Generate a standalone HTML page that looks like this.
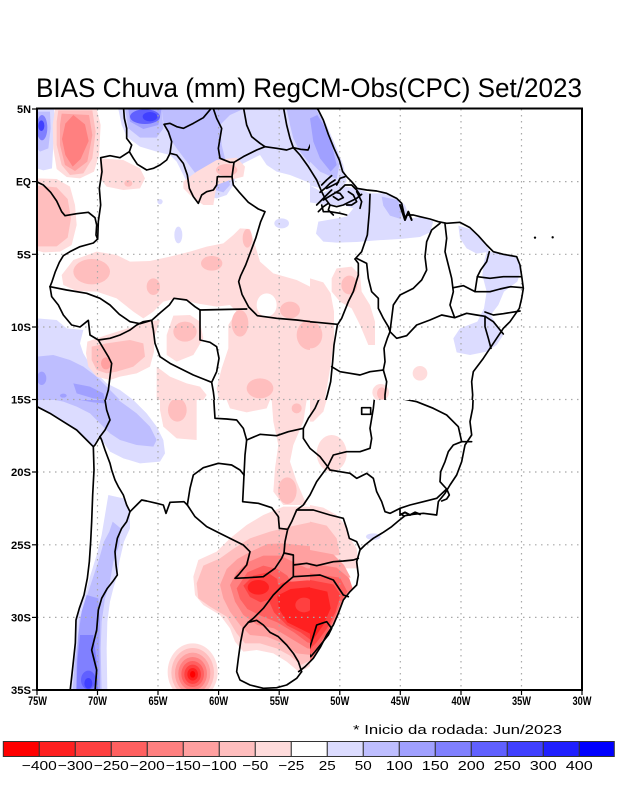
<!DOCTYPE html>
<html><head><meta charset="utf-8"><style>
html,body{margin:0;padding:0;background:#fff}
svg{display:block}
.b{fill:none;stroke:#000;stroke-width:5;stroke-linejoin:round;stroke-linecap:round}
.p1{fill:#ffdcdc}.p2{fill:#ffbebe}.p3{fill:#ffa0a0}.p4{fill:#ff8080}.p5{fill:#ff6060}.p6{fill:#ff4040}.p7{fill:#ff2020}.p8{fill:#ff0000}
.q1{fill:#dcdcff}.q2{fill:#bebeff}.q3{fill:#a0a0ff}.q4{fill:#8080ff}.q5{fill:#6060ff}.q6{fill:#4040ff}.q7{fill:#2020ff}.q8{fill:#0000ff}
.w{fill:#fff}
.grid{stroke:#a8a8a8;stroke-width:1.2;stroke-dasharray:1.5 4.5;fill:none}
.lab{font-family:"Liberation Sans",sans-serif;font-weight:bold;font-size:11px;fill:#000}
.cb{font-family:"Liberation Sans",sans-serif;font-size:13px;fill:#000}
</style></head><body>
<svg width="618" height="800" viewBox="0 0 618 800" xmlns="http://www.w3.org/2000/svg">
<defs>
<clipPath id="cA"><rect x="21" y="12" width="819" height="873"/></clipPath>
<clipPath id="cB"><rect x="60" y="12" width="816" height="873"/></clipPath>
<clipPath id="cC"><rect x="21" y="15" width="819" height="870"/></clipPath>
<clipPath id="cD"><rect x="60" y="15" width="816" height="870"/></clipPath>
</defs>
<rect width="618" height="800" fill="#fff"/>

<text x="36" y="97" font-family="Liberation Sans, sans-serif" font-size="27" textLength="546" lengthAdjust="spacingAndGlyphs">BIAS Chuva (mm) RegCM-Obs(CPC) Set/2023</text>

<!-- ===== FILLS ===== -->
<g transform="translate(30,105) scale(0.333333)" clip-path="url(#cA)">
<polygon class="q1" points="21,12 72,12 76,60 70,120 66,190 40,196 21,190"/>
<polygon class="q2" points="21,20 60,20 62,70 55,130 30,140 21,130"/>
<ellipse class="q4" cx="36" cy="68" rx="16" ry="38"/>
<ellipse class="q6" cx="34" cy="62" rx="9" ry="16"/>
<polygon class="p1" points="75,12 200,12 212,60 207,150 192,200 150,220 110,216 80,192 70,130 68,60"/>
<polygon class="p2" points="85,16 187,16 197,80 187,160 160,205 120,210 95,180 80,120 80,50"/>
<polygon class="p3" points="95,26 177,30 187,90 172,170 135,198 105,180 90,120 90,60"/>
<polygon class="p4" points="130,30 165,58 176,108 152,162 128,185 106,150 96,102 106,56"/>
<polygon class="p1" points="21,220 80,222 120,245 135,300 140,360 125,420 90,440 40,442 21,436"/>
<polygon class="p2" points="21,242 80,247 113,282 123,340 113,398 80,424 21,424"/>
<polygon class="q1" points="265,12 275,60 290,95 330,125 380,140 420,150 440,170 460,210 480,250 520,270 560,280 590,270 610,240 625,190 640,175 690,150 710,180 740,200 780,210 830,230 870,250 900,270 900,12"/>
<polygon class="q2" points="395,12 400,50 420,100 440,130 470,170 500,210 540,250 580,262 600,240 590,180 575,120 570,60 600,30 640,12"/>
<polygon class="q2" points="285,12 395,12 400,70 380,98 330,98 295,70"/>
<polygon class="q3" points="295,12 395,12 385,60 340,72 300,50"/>
<ellipse class="q5" cx="345" cy="35" rx="45" ry="22"/>
<ellipse class="q6" cx="360" cy="35" rx="22" ry="14"/>
<polygon class="q2" points="770,12 780,60 790,100 810,140 850,190 880,230 900,240 900,12"/>
<polygon class="p1" points="210,160 280,165 330,190 345,220 330,250 280,255 230,245 210,220"/>
<ellipse class="p2" cx="295" cy="235" rx="12" ry="10"/>
<polygon class="p1" points="460,230 500,200 560,165 620,158 645,185 640,215 600,225 560,240 550,300 520,300 480,270 460,250"/>
<ellipse class="p2" cx="590" cy="195" rx="32" ry="18"/>
<ellipse class="q1" cx="390" cy="290" rx="8" ry="8"/>
<ellipse class="q1" cx="445" cy="390" rx="12" ry="25"/>
<ellipse class="q1" cx="755" cy="355" rx="22" ry="15"/>
<ellipse class="q1" cx="880" cy="372" rx="30" ry="25"/>
<polygon class="p1" points="95,510 130,465 200,440 260,450 300,470 360,468 420,455 480,440 530,425 580,415 610,390 630,370 660,372 675,420 690,470 730,505 800,525 850,550 900,570 900,900 570,900 560,850 575,790 595,730 595,660 620,620 600,600 560,605 500,595 440,580 400,590 370,620 340,640 310,620 260,580 200,560 140,558 100,540"/>
<ellipse class="w" cx="710" cy="600" rx="30" ry="35"/>
<ellipse class="p2" cx="185" cy="500" rx="55" ry="38"/>
<ellipse class="p2" cx="370" cy="545" rx="20" ry="25"/>
<ellipse class="p2" cx="545" cy="475" rx="32" ry="22"/>
<ellipse class="p2" cx="652" cy="400" rx="14" ry="28"/>
<ellipse class="p2" cx="630" cy="655" rx="25" ry="40"/>
<ellipse class="p2" cx="780" cy="615" rx="30" ry="25"/>
<ellipse class="p2" cx="840" cy="690" rx="40" ry="45"/>
<ellipse class="p2" cx="690" cy="850" rx="40" ry="30"/>
<polygon class="q1" points="21,640 80,645 110,670 160,675 150,715 160,745 190,795 230,835 270,855 310,885 350,925 21,925"/>
<polygon class="q2" points="21,755 70,750 120,765 160,785 200,815 240,855 270,885 300,915 21,915"/>
<polygon class="q3" points="130,835 180,845 220,865 225,885 190,880 140,865"/>
<ellipse class="q3" cx="35" cy="820" rx="14" ry="20"/>
<ellipse class="q3" cx="100" cy="872" rx="10" ry="6"/>
<polygon class="p1" points="168,745 172,710 230,690 300,668 350,650 390,645 372,700 372,740 360,785 320,805 270,815 240,825 200,815 175,785"/>
<polygon class="p2" points="185,725 230,715 300,705 340,715 345,755 310,785 260,800 230,805 200,795 185,765"/>
<ellipse class="p3" cx="228" cy="775" rx="15" ry="18"/>
<polygon class="p1" points="430,632 480,630 510,650 520,700 490,750 440,770 410,750 410,690"/>
<ellipse class="p2" cx="465" cy="680" rx="35" ry="30"/>
<polygon class="p1" points="380,785 420,815 470,835 510,845 530,870 520,885 380,885"/>
</g>

<g transform="translate(290,105) scale(0.333333)" clip-path="url(#cB)">
<polygon class="q1" points="60,12 85,12 110,60 140,130 160,180 170,230 140,262 100,252 60,242"/>
<polygon class="q2" points="60,12 78,12 100,50 128,120 148,180 140,222 90,200 60,170"/>
<polygon class="q3" points="60,40 82,30 102,62 126,122 140,180 122,200 90,160 70,110"/>
<polygon class="q1" points="60,242 100,262 150,242 200,250 240,265 280,265 320,280 345,300 360,340 400,335 430,350 420,382 390,396 330,402 260,406 200,411 140,413 100,410 78,386 85,350 130,342 170,335 190,310 160,300 110,300 60,292"/>
<polygon class="q2" points="275,275 322,285 336,312 332,342 300,332 280,302"/>
<polygon class="q1" points="505,362 540,372 580,410 600,440 560,446 530,430 510,400"/>
<polygon class="q1" points="590,440 640,446 682,456 692,500 682,530 642,560 625,600 602,630 627,670 640,690 620,720 590,740 540,750 500,742 490,700 510,670 562,650 582,610 590,560 577,510 582,470"/>
<polygon class="p1" points="140,490 185,485 210,510 215,560 240,600 255,650 255,720 235,720 210,660 185,610 150,590 125,560 125,520"/>
<ellipse class="p2" cx="178" cy="540" rx="24" ry="28"/>
<polygon class="p1" points="60,520 100,532 122,565 132,620 132,700 122,780 112,840 102,900 60,900"/>
<ellipse class="p2" cx="62" cy="690" rx="35" ry="40"/>
<circle class="p1" cx="390" cy="805" r="22"/>
<ellipse class="p1" cx="272" cy="862" rx="25" ry="25"/>
<ellipse class="p2" cx="275" cy="865" rx="14" ry="18"/>
</g>

<g transform="translate(30,395) scale(0.333333)" clip-path="url(#cC)">
<polygon class="q1" points="21,15 310,15 350,55 380,95 400,135 405,175 390,200 330,205 280,190 240,170 215,135 205,125 190,155 170,135 140,105 100,80 60,55 21,35"/>
<polygon class="q2" points="21,15 265,15 320,55 360,95 380,135 370,155 320,150 270,135 240,115 210,85 180,55 140,35 100,20 60,12"/>
<polygon class="q3" points="150,15 225,15 222,25 190,22"/>
<polygon class="q1" points="235,300 280,310 300,350 300,400 282,440 268,500 262,540 250,580 240,620 232,680 230,760 232,890 118,890 124,846 130,800 136,744 138,675 150,640 165,600 180,545 200,480 215,420 225,360"/>
<polygon class="q2" points="248,380 272,400 268,450 250,500 240,560 225,610 215,680 212,760 215,890 128,890 134,800 142,744 148,675 165,620 185,560 205,500 222,440 238,410"/>
<polygon class="q3" points="170,600 205,610 210,680 208,760 210,890 138,890 140,800 145,720 155,650"/>
<polygon class="q4" points="150,720 190,720 200,800 205,890 140,890 142,800"/>
<ellipse class="q5" cx="175" cy="855" rx="22" ry="28"/>
<ellipse class="q6" cx="175" cy="865" rx="12" ry="16"/>
<polygon class="p1" points="390,15 500,15 500,135 440,130 400,95 390,45"/>
<ellipse class="p2" cx="442" cy="45" rx="28" ry="35"/>
<polygon class="p1" points="590,15 720,15 710,40 650,52 600,40"/>
<polygon class="p1" points="725,15 830,15 820,80 790,150 780,200 800,260 830,330 760,330 730,290 735,220 745,150 730,80"/>
<ellipse class="p2" cx="772" cy="287" rx="28" ry="40"/>
<ellipse class="p2" cx="800" cy="40" rx="15" ry="15"/>
<polygon class="p1" points="490,545 505,495 560,470 600,430 650,390 700,360 760,335 830,335 900,340 900,790 860,800 830,820 806,830 770,800 730,775 680,765 640,770 615,740 600,700 570,660 520,630 495,600"/>
<polygon class="p2" points="500,565 520,512 570,490 612,460 660,430 720,410 780,395 850,380 900,375 900,785 850,792 812,810 780,782 740,760 690,745 645,745 620,715 590,665 540,635 505,610"/>
<polygon class="p3" points="570,570 590,522 622,492 662,470 712,447 762,445 822,452 900,460 900,780 842,780 800,775 760,745 710,725 660,720 630,690 600,650 580,610"/>
<polygon class="p4" points="600,570 620,532 652,502 700,482 752,482 792,502 832,520 900,520 900,770 832,760 782,730 732,700 682,690 640,660 615,620"/>
<polygon class="p5" points="620,580 652,532 700,512 742,522 772,542 782,560 900,560 900,760 832,742 792,712 742,682 692,662 652,642 630,612"/>
<polygon class="p6" points="640,572 670,542 712,532 742,552 746,586 722,612 692,622 660,606"/>
<polygon class="p6" points="720,580 760,562 832,556 900,560 900,752 852,742 812,712 772,692 732,652 716,616"/>
<ellipse class="p7" cx="685" cy="577" rx="32" ry="22"/>
<polygon class="p7" points="742,602 782,582 842,576 900,580 900,740 852,722 812,702 772,682 747,642"/>
<ellipse class="p6" cx="822" cy="630" rx="26" ry="22"/>
<ellipse class="p1" cx="488" cy="831" rx="75" ry="86"/>
<ellipse class="p2" cx="488" cy="833" rx="64" ry="74"/>
<ellipse class="p3" cx="488" cy="835" rx="53" ry="62"/>
<ellipse class="p4" cx="488" cy="836" rx="43" ry="50"/>
<ellipse class="p5" cx="488" cy="837" rx="34" ry="39"/>
<ellipse class="p6" cx="488" cy="838" rx="25" ry="29"/>
<ellipse class="p7" cx="488" cy="838" rx="16" ry="19"/>
<ellipse class="p8" cx="488" cy="838" rx="8" ry="10"/>
</g>

<g transform="translate(290,395) scale(0.333333)" clip-path="url(#cD)">
<polygon class="p1" points="60,15 110,15 100,50 70,80 60,80"/>
<ellipse class="p1" cx="125" cy="175" rx="45" ry="55"/>
<polygon class="p1" points="60,330 100,338 140,360 165,390 180,430 200,460 205,520 60,520"/>
<polygon class="p2" points="60,380 110,392 140,430 150,480 60,490"/>
<polygon class="p3" points="60,465 130,478 162,510 182,548 60,548"/>
<polygon class="p4" points="60,505 140,518 178,550 188,580 162,612 142,660 122,700 100,742 75,782 60,800"/>
<polygon class="p5" points="60,535 150,548 172,590 152,622 136,662 112,712 86,752 60,782"/>
<polygon class="p6" points="60,555 130,568 152,600 136,652 110,702 80,742 60,762"/>
<polygon class="p7" points="60,578 112,590 122,640 100,690 72,730 60,740"/>
<ellipse class="q1" cx="250" cy="425" rx="22" ry="10"/>
</g>

<!-- ===== GRID ===== -->
<g class="grid">
<line x1="97.5" y1="109" x2="97.5" y2="690"/>
<line x1="158" y1="109" x2="158" y2="690"/>
<line x1="218.6" y1="109" x2="218.6" y2="690"/>
<line x1="279.2" y1="109" x2="279.2" y2="690"/>
<line x1="339.8" y1="109" x2="339.8" y2="690"/>
<line x1="400.3" y1="109" x2="400.3" y2="690"/>
<line x1="461" y1="109" x2="461" y2="690"/>
<line x1="521.5" y1="109" x2="521.5" y2="690"/>
<line x1="37" y1="181.6" x2="582" y2="181.6"/>
<line x1="37" y1="254.3" x2="582" y2="254.3"/>
<line x1="37" y1="327" x2="582" y2="327"/>
<line x1="37" y1="399.5" x2="582" y2="399.5"/>
<line x1="37" y1="472" x2="582" y2="472"/>
<line x1="37" y1="544.8" x2="582" y2="544.8"/>
<line x1="37" y1="617.4" x2="582" y2="617.4"/>
</g>

<!-- ===== BORDERS ===== -->
<g transform="translate(30,105) scale(0.333333)" clip-path="url(#cA)">
<polyline class="b" points="280,0 283,40 290,70 290,100 305,120 298,140 310,160 322,178 350,195 370,190 390,180 410,165 420,145"/>
<polyline class="b" points="420,145 425,110 415,80 402,58 420,55 440,65 460,70 490,55 520,38 548,5"/>
<polyline class="b" points="548,5 560,40 575,70 570,100 565,130 570,160 600,172 612,172 640,155 680,135 705,125 740,130 770,135 790,128 812,133 834,135 850,100 870,48 880,20"/>
<polyline class="b" points="420,145 440,150 460,175 472,210 478,250 490,275 505,295 515,270 530,260 550,255 560,240 562,215 606,215 612,172"/>
<polyline class="b" points="606,215 610,240 628,262 655,292 685,312 705,320 692,350 677,400 662,440 647,480 632,512 626,530 636,568 656,606 682,632 740,640 800,645 860,652 910,658"/>
<polyline class="b" points="640,5 650,60 665,95 690,115 705,125"/>
<polyline class="b" points="760,5 770,60 780,100 790,128"/>
<polyline class="b" points="790,128 810,150 835,185 860,225 875,260 885,280"/>
<polyline class="b" points="298,140 270,158 240,152 212,158 216,200 208,250 212,300 205,350 203,402"/>
<polyline class="b" points="15,228 40,240 62,262 80,288 95,320 105,332 140,326 175,322 195,338 200,360 198,390 203,402"/>
<polyline class="b" points="203,402 190,414 150,425 120,440 100,452 88,472 76,500 66,530 60,545"/>
<polyline class="b" points="60,545 110,555 170,565 210,580 240,600 268,628 300,650 330,656 365,646"/>
<polyline class="b" points="60,545 65,575 85,600 100,630 125,660 150,666 175,646 180,690 205,705 240,700 270,690 300,675 320,660 340,650 365,646"/>
<polyline class="b" points="205,705 235,755 245,775 240,815 235,855 225,890"/>
<polyline class="b" points="365,646 370,675 375,715 390,755 420,775 450,790 490,810 520,822 545,832 550,860 555,900"/>
<polyline class="b" points="365,646 392,622 418,600 432,580 470,585 495,605 510,615"/>
<polyline class="b" points="510,615 510,705 540,712 560,725 567,760 560,800 545,832"/>
<polyline class="b" points="510,615 650,612"/>
</g>

<g transform="translate(290,105) scale(0.333333)" clip-path="url(#cB)">
<polyline class="b" points="70,0 85,15 100,45 115,88 132,130 148,165 158,200"/>
<polyline class="b" points="10,128 30,150 55,185 80,225 95,260 105,280"/>
<g style="stroke-width:7">
<polyline class="b" points="158,200 170,215 185,230 200,248"/>
<polyline class="b" points="100,285 125,270 150,255 165,240 185,240 200,255 210,270"/>
<polyline class="b" points="105,280 120,300 140,305 160,300 180,290 200,280 215,268"/>
<polyline class="b" points="95,300 100,320 120,320 150,325 170,330"/>
<polyline class="b" points="140,240 150,220 165,215"/>
<polyline class="b" points="110,250 130,240 145,232"/>
<polyline class="b" points="175,260 190,270 200,290 185,300 170,300"/>
<polyline class="b" points="120,300 115,315 130,330"/>
<polyline class="b" points="200,260 215,290 210,310"/>
<polyline class="b" points="80,300 95,285 110,270 125,255"/>
<polyline class="b" points="85,320 100,305 115,295"/>
<polyline class="b" points="90,262 105,250 120,235 135,225"/>
<polyline class="b" points="95,240 110,225 125,212"/>
<polyline class="b" points="130,275 145,285 160,278 150,265 135,262"/>
</g>
<polyline class="b" points="200,250 230,255 260,258 290,265 320,280 335,295 345,340 350,330 370,330 390,335 420,342 445,350 470,355 510,352 540,368 565,392 590,420 610,440 640,448 680,455 690,480 696,520 700,550 695,580 688,610 660,650 640,670 620,700 600,730 580,760 565,780 550,800 545,830 548,870 545,905"/>
<polyline class="b" style="stroke-width:6" points="330,300 345,345 355,320 365,345"/>
<polyline class="b" points="240,268 238,320 232,390 215,440 195,462"/>
<polyline class="b" points="195,462 205,475 205,510 190,560 175,590 155,640 142,660 132,720 128,770 122,830 112,870 102,905"/>
<polyline class="b" points="0,645 80,652 142,658"/>
<polyline class="b" points="200,460 230,475 235,520 245,560 265,580 265,610 280,640 295,665 300,680"/>
<polyline class="b" points="300,680 305,640 310,600 330,570 370,550 395,525 410,495 405,455 410,410 425,375 450,355"/>
<polyline class="b" points="465,357 470,400 465,440 475,480 485,520 490,560 480,600 494,638"/>
<polyline class="b" points="598,440 590,470 572,495 562,515"/>
<polyline class="b" points="562,515 600,520 640,515 692,515"/>
<polyline class="b" points="490,548 520,542 555,560 562,515"/>
<polyline class="b" points="555,560 600,560 630,552 662,545 698,548"/>
<polyline class="b" points="300,680 320,700 350,692 380,660 420,645 455,630 494,638 530,625 560,630 585,634"/>
<polyline class="b" points="585,621 610,630 640,626 690,618"/>
<polyline class="b" points="585,634 610,650 640,687"/>
<polyline class="b" points="585,634 585,665 595,700 603,730"/>
<polyline class="b" points="300,680 292,700 282,730 285,770 280,795"/>
<polyline class="b" points="125,785 150,800 180,805 210,810 240,800 280,795"/>
<polyline class="b" points="280,795 290,830 285,870 285,905"/>
<circle cx="735" cy="398" r="3.5" fill="#000"/>
<circle cx="788" cy="397" r="3.5" fill="#000"/>
</g>

<g transform="translate(30,395) scale(0.333333)" clip-path="url(#cC)">
<polyline class="b" points="21,35 60,55 100,80 140,105 170,135 190,155"/>
<polyline class="b" points="190,155 192,225 188,300 185,380 182,440 178,500 172,550 162,600 148,640 138,675 136,744 130,800 125,846 120,890"/>
<polyline class="b" points="225,-10 225,15 230,45 240,75 225,105 210,125"/>
<polyline class="b" points="210,125 195,150 190,155"/>
<polyline class="b" points="210,125 215,135 225,165 240,205 245,225 255,255 265,275 280,300 290,330 300,350 290,380 275,400 262,430 255,470 258,510 262,540 248,560 232,580 215,610 205,645 200,705 185,765 200,825 195,890"/>
<polyline class="b" points="300,350 320,330 335,315 350,318 380,325 400,330 408,355 420,322 462,320 472,330"/>
<polyline class="b" points="472,330 480,280 490,240 520,218 565,205 605,210 630,225 642,240"/>
<polyline class="b" points="550,-10 553,40 555,70 590,72 620,75 640,100 650,135 645,180 642,240"/>
<polyline class="b" points="642,240 638,320 685,325 725,338 745,365 748,400 773,403 765,440 762,474"/>
<polyline class="b" points="472,330 495,365 530,395 570,415 610,435 640,450 660,470 650,510 625,540 615,550 655,548 700,545 735,520 755,490 762,474"/>
<polyline class="b" points="762,474 790,480 790,545 760,570 730,600 700,640 670,670 655,682"/>
<polyline class="b" points="790,510 830,505 860,512 910,505"/>
<polyline class="b" points="790,545 840,542 910,552"/>
<polyline class="b" points="655,682 640,700 632,740 625,790 620,830 630,855 660,870 700,880 740,878 770,870 800,850 815,830"/>
<polyline class="b" points="655,682 680,676 700,690 720,712 745,725 770,750 790,775 805,800 815,830"/>
<polyline class="b" points="806,830 825,815 850,790 872,755 890,720"/>
<polyline class="b" points="650,135 690,118 740,122 775,110 820,100"/>
<polyline class="b" points="875,-5 855,40 835,70 820,100 820,130 840,160 870,185 893,215"/>
<polyline class="b" points="893,215 860,260 840,300 820,330 800,345 785,380 773,403"/>
<polyline class="b" points="800,345 850,345 910,360"/>
</g>

<g transform="translate(290,395) scale(0.333333)" clip-path="url(#cD)">
<polyline class="b" points="550,-5 548,40 540,80 545,120 525,150 515,200 500,240 480,270 465,295 445,320 440,360 400,355 370,358 345,362 325,378 305,395 280,412 250,430 225,450 210,465 200,500 205,540 200,570 180,590 160,615 145,655 130,690 110,720 92,755 70,790 45,815 20,840"/>
<polygon class="b" points="80,690 110,680 125,700 115,720 95,745 75,770 62,785 55,770 65,740"/>
<polyline class="b" style="stroke-width:6" points="330,360 345,352 360,360 375,352 390,358"/>
<polygon class="b" points="215,38 242,38 242,58 215,58"/>
<polyline class="b" points="300,0 330,10 380,20 430,40 470,60 505,95 515,140 545,140"/>
<polyline class="b" points="515,140 490,150 475,170 465,200 452,230 450,260 470,282"/>
<polyline class="b" points="470,282 440,310 400,320 360,330 330,340 300,355 285,350 275,320 260,290 250,250 230,235 200,250 180,235 150,230 120,225 113,215"/>
<polyline class="b" points="470,282 478,300 470,312 455,318"/>
<polyline class="b" points="330,340 330,355 340,362"/>
<polyline class="b" points="255,-5 250,40 245,70 240,100 245,130 240,160 210,170 170,170 130,180 120,200 113,215"/>
<polyline class="b" points="95,-5 75,40 55,70 40,100 40,130 60,160 90,185 113,215"/>
<polyline class="b" points="113,215 80,260 60,300 40,330 20,345"/>
<polyline class="b" points="20,345 70,345 120,360 160,370 170,400 178,430 200,440 210,462"/>
<polyline class="b" points="10,510 50,505 80,512 130,500 160,498 190,495 205,490"/>
<polyline class="b" points="10,545 60,542 90,540 130,555 160,600 175,605"/>
</g>

<!-- ===== FRAME & TICKS ===== -->
<rect x="37" y="108.5" width="545" height="581.5" fill="none" stroke="#000" stroke-width="2"/>
<g stroke="#000" stroke-width="1.2">
<line x1="32" y1="109" x2="37" y2="109"/><line x1="32" y1="181.6" x2="37" y2="181.6"/>
<line x1="32" y1="254.3" x2="37" y2="254.3"/><line x1="32" y1="327" x2="37" y2="327"/>
<line x1="32" y1="399.5" x2="37" y2="399.5"/><line x1="32" y1="472" x2="37" y2="472"/>
<line x1="32" y1="544.8" x2="37" y2="544.8"/><line x1="32" y1="617.4" x2="37" y2="617.4"/>
<line x1="32" y1="690" x2="37" y2="690"/>
<line x1="37" y1="690" x2="37" y2="695"/><line x1="97.5" y1="690" x2="97.5" y2="695"/>
<line x1="158" y1="690" x2="158" y2="695"/><line x1="218.6" y1="690" x2="218.6" y2="695"/>
<line x1="279.2" y1="690" x2="279.2" y2="695"/><line x1="339.8" y1="690" x2="339.8" y2="695"/>
<line x1="400.3" y1="690" x2="400.3" y2="695"/><line x1="461" y1="690" x2="461" y2="695"/>
<line x1="521.5" y1="690" x2="521.5" y2="695"/><line x1="582" y1="690" x2="582" y2="695"/>
</g>

<g class="lab" text-anchor="end">
<text x="31" y="113" textLength="14" lengthAdjust="spacingAndGlyphs">5N</text>
<text x="31" y="185.6" textLength="15" lengthAdjust="spacingAndGlyphs">EQ</text>
<text x="31" y="258.3" textLength="14" lengthAdjust="spacingAndGlyphs">5S</text>
<text x="31" y="331" textLength="20" lengthAdjust="spacingAndGlyphs">10S</text>
<text x="31" y="403.5" textLength="20" lengthAdjust="spacingAndGlyphs">15S</text>
<text x="31" y="476" textLength="20" lengthAdjust="spacingAndGlyphs">20S</text>
<text x="31" y="548.8" textLength="20" lengthAdjust="spacingAndGlyphs">25S</text>
<text x="31" y="621.4" textLength="20" lengthAdjust="spacingAndGlyphs">30S</text>
<text x="31" y="694" textLength="20" lengthAdjust="spacingAndGlyphs">35S</text>
</g>
<g class="lab" text-anchor="middle" style="font-size:12px">
<text x="37.5" y="705" textLength="19" lengthAdjust="spacingAndGlyphs">75W</text>
<text x="97.5" y="705" textLength="19" lengthAdjust="spacingAndGlyphs">70W</text>
<text x="158" y="705" textLength="19" lengthAdjust="spacingAndGlyphs">65W</text>
<text x="218.6" y="705" textLength="19" lengthAdjust="spacingAndGlyphs">60W</text>
<text x="279.2" y="705" textLength="19" lengthAdjust="spacingAndGlyphs">55W</text>
<text x="339.8" y="705" textLength="19" lengthAdjust="spacingAndGlyphs">50W</text>
<text x="400.3" y="705" textLength="19" lengthAdjust="spacingAndGlyphs">45W</text>
<text x="461" y="705" textLength="19" lengthAdjust="spacingAndGlyphs">40W</text>
<text x="521.5" y="705" textLength="19" lengthAdjust="spacingAndGlyphs">35W</text>
<text x="582" y="705" textLength="19" lengthAdjust="spacingAndGlyphs">30W</text>
</g>

<text x="353" y="734" font-family="Liberation Sans, sans-serif" font-size="13" textLength="209" lengthAdjust="spacingAndGlyphs">* Inicio da rodada: Jun/2023</text>

<!-- ===== COLORBAR ===== -->
<g stroke="#333" stroke-width="1">
<rect x="3.3" y="741.5" width="36" height="15" fill="#ff0000"/>
<rect x="39.3" y="741.5" width="36" height="15" fill="#ff2020"/>
<rect x="75.3" y="741.5" width="36" height="15" fill="#ff4040"/>
<rect x="111.3" y="741.5" width="36" height="15" fill="#ff6060"/>
<rect x="147.3" y="741.5" width="36" height="15" fill="#ff8080"/>
<rect x="183.3" y="741.5" width="36" height="15" fill="#ffa0a0"/>
<rect x="219.3" y="741.5" width="36" height="15" fill="#ffbebe"/>
<rect x="255.3" y="741.5" width="36" height="15" fill="#ffdcdc"/>
<rect x="291.3" y="741.5" width="36" height="15" fill="#ffffff"/>
<rect x="327.3" y="741.5" width="36" height="15" fill="#dcdcff"/>
<rect x="363.3" y="741.5" width="36" height="15" fill="#bebeff"/>
<rect x="399.3" y="741.5" width="36" height="15" fill="#a0a0ff"/>
<rect x="435.3" y="741.5" width="36" height="15" fill="#8080ff"/>
<rect x="471.3" y="741.5" width="36" height="15" fill="#6060ff"/>
<rect x="507.3" y="741.5" width="36" height="15" fill="#4040ff"/>
<rect x="543.3" y="741.5" width="36" height="15" fill="#2020ff"/>
<rect x="579.3" y="741.5" width="35" height="15" fill="#0000ff"/>
</g>
<g class="cb" text-anchor="middle">
<text x="39.3" y="770" textLength="35" lengthAdjust="spacingAndGlyphs">−400</text>
<text x="75.3" y="770" textLength="35" lengthAdjust="spacingAndGlyphs">−300</text>
<text x="111.3" y="770" textLength="35" lengthAdjust="spacingAndGlyphs">−250</text>
<text x="147.3" y="770" textLength="35" lengthAdjust="spacingAndGlyphs">−200</text>
<text x="183.3" y="770" textLength="35" lengthAdjust="spacingAndGlyphs">−150</text>
<text x="219.3" y="770" textLength="35" lengthAdjust="spacingAndGlyphs">−100</text>
<text x="255.3" y="770" textLength="26" lengthAdjust="spacingAndGlyphs">−50</text>
<text x="291.3" y="770" textLength="26" lengthAdjust="spacingAndGlyphs">−25</text>
<text x="327.3" y="770" textLength="17" lengthAdjust="spacingAndGlyphs">25</text>
<text x="363.3" y="770" textLength="17" lengthAdjust="spacingAndGlyphs">50</text>
<text x="399.3" y="770" textLength="27" lengthAdjust="spacingAndGlyphs">100</text>
<text x="435.3" y="770" textLength="27" lengthAdjust="spacingAndGlyphs">150</text>
<text x="471.3" y="770" textLength="27" lengthAdjust="spacingAndGlyphs">200</text>
<text x="507.3" y="770" textLength="27" lengthAdjust="spacingAndGlyphs">250</text>
<text x="543.3" y="770" textLength="27" lengthAdjust="spacingAndGlyphs">300</text>
<text x="579.3" y="770" textLength="27" lengthAdjust="spacingAndGlyphs">400</text>
</g>
</svg>
</body></html>
